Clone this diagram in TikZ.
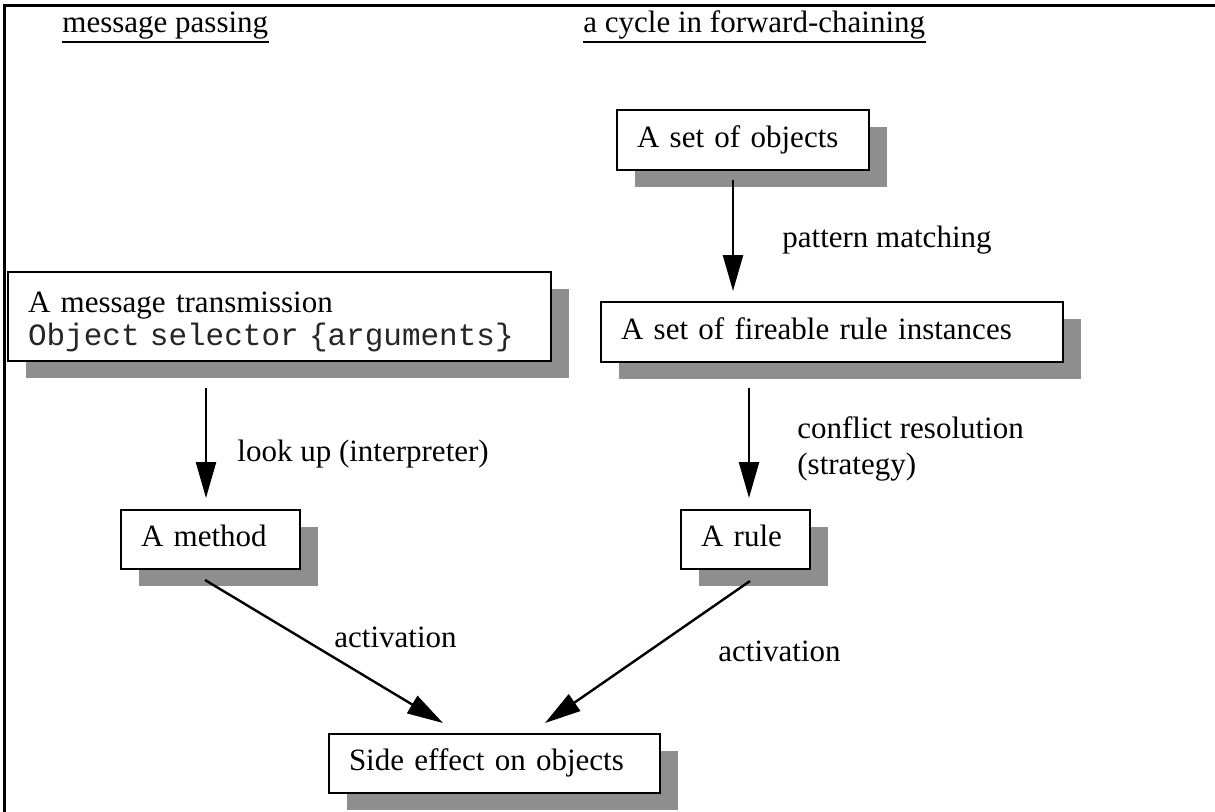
\documentclass[tikz,border=0pt]{standalone}
\usepackage{fontspec}
\setmainfont{Liberation Serif}
\setmonofont{Liberation Mono}
\usetikzlibrary{arrows.meta,shadows,calc}
\definecolor{shade}{RGB}{142,142,142}
\begin{document}
\begin{tikzpicture}[x=0.5pt,y=-0.5pt,
  font=\fontsize{15.5}{16.5}\selectfont,
  box/.style={draw,line width=1.2pt,fill=white,anchor=north west,outer sep=0pt,
    inner xsep=10pt,inner ysep=0pt,align=left,
    drop shadow={shadow xshift=9pt,shadow yshift=-8.5pt,fill=shade,opacity=1}},
  onebox/.style={box,text height=0.9em,text depth=0.2em,minimum height=29.5pt},
  lbl/.style={inner sep=0pt,anchor=base west},
  arr/.style={line width=1.2pt,-{Triangle[length=18pt,width=10pt]}}]
\useasboundingbox (0,0) rectangle (1215,811);
\fill[white] (0,0) rectangle (1215,811);
% frame
\draw[line width=1.5pt] (4.5,820) -- (4.5,5.5) -- (1225,5.5);
% headers
\node[lbl] (mp) at (62,32) {message passing};
\node[lbl] (cyc) at (583,32) {a cycle in forward-chaining};
\draw[line width=1.1pt] ([yshift=-5pt]mp.base west) -- ([yshift=-5pt]mp.base east);
\draw[line width=1.1pt] ([yshift=-5pt]cyc.base west) -- ([yshift=-5pt]cyc.base east);
% boxes
\node[onebox,text width=106pt,minimum height=30pt] (obj) at (617,110) {A set of objects};
\node[onebox,text width=211pt,minimum height=30pt] (fire) at (601,302) {A set of fireable rule instances};
\node[onebox,text width=44.5pt] (rule) at (681,510) {A rule};
\node[box,text width=251.5pt,minimum height=44.5pt] (msg) at (8,272) {\rule{0pt}{15.5pt}A message transmission\\{\ttfamily\color{black!85} Object selector \{arguments\}}};
\node[onebox,text width=69.5pt] (meth) at (121,510) {A method};
\node[onebox,text width=145.5pt] (side) at (329,734) {Side effect on objects};
% labels
\node[lbl] (pm) at (782,247) {pattern matching};
\node[inner sep=0pt,anchor=north west,align=left,font=\fontsize{15.5}{18}\selectfont] (cr) at (797,416) {conflict resolution\\(strategy)};
\node[lbl] (lu) at (237,461) {look up (interpreter)};
\node[lbl] (act1) at (334,647) {activation};
\node[lbl] (act2) at (718,661) {activation};
% arrows
\draw[arr] ($(obj.south west)+(116,10)$) -- ($(fire.north west)+(132,-11)$);
\draw[arr] ($(fire.south west)+(148,26)$) -- ($(rule.north west)+(68,-12)$);
\draw[arr] ($(msg.south west)+(198,27)$) -- ($(meth.north west)+(85,-12)$);
\draw[arr] ($(meth.south west)+(84,11)$) -- ($(side.north west)+(114,-11)$);
\draw[arr] ($(rule.south west)+(69,12)$) -- ($(side.north west)+(216,-11)$);
\end{tikzpicture}
\end{document}
